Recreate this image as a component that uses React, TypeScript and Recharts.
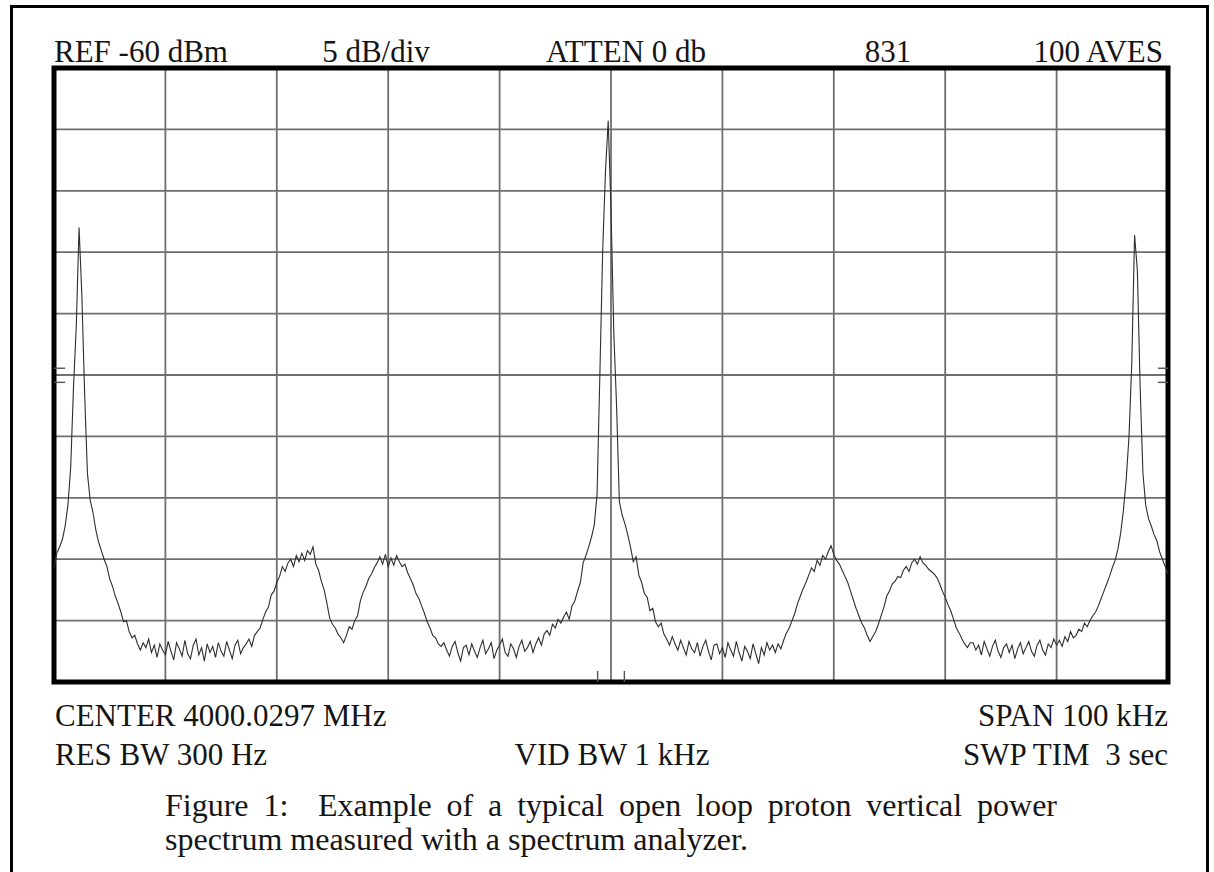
import { LineChart, Line, XAxis, YAxis, CartesianGrid, ReferenceArea, ReferenceLine } from 'recharts';

// sweep: 401 points, -50 kHz .. +50 kHz around the center frequency
const sweepStartKHz = -50;
const sweepStepKHz = 0.25;

// trace level in dBm
const traceDbm = [
    -100.7, -99.5, -99.0, -98.4, -97.3, -95.6, -92.5, -86.0, -81.0, -73.0,
    -78.5, -86.5, -93.0, -95.2, -96.2, -97.6, -98.6, -99.3, -100.0, -100.6,
    -101.6, -102.2, -103.0, -103.6, -104.3, -105.1, -105.0, -105.9, -106.4, -106.2,
    -106.9, -107.4, -106.8, -107.2, -106.5, -107.6, -107.0, -108.0, -106.9, -107.4,
    -107.8, -106.7, -107.5, -108.2, -106.8, -107.3, -107.9, -106.6, -107.7, -108.1,
    -107.0, -106.5, -107.8, -107.2, -108.3, -106.9, -107.6, -107.1, -108.0, -106.8,
    -107.5, -107.9, -106.7, -107.4, -108.1, -107.0, -106.6, -107.7, -107.2, -106.9,
    -106.5, -107.1, -106.2, -105.9, -105.6, -104.9, -104.3, -103.9, -102.9, -102.6,
    -101.9, -101.4, -100.6, -101.0, -100.3, -100.0, -100.6, -99.7, -100.2, -99.5,
    -100.1, -99.3, -99.6, -99.0, -100.4, -100.9, -101.8, -102.5, -103.6, -104.8,
    -105.3, -105.6, -106.1, -106.4, -106.8, -106.2, -105.5, -105.7, -105.0, -104.6,
    -103.4, -102.7, -102.2, -101.6, -101.2, -100.7, -100.3, -99.8, -100.4, -99.6,
    -100.6, -99.9, -100.5, -99.7, -100.2, -100.6, -100.4, -101.1, -101.6, -102.1,
    -102.8, -103.2, -103.8, -104.4, -105.1, -105.6, -106.2, -106.4, -106.9, -107.1,
    -106.8, -107.4, -107.9, -107.1, -106.7, -107.6, -108.3, -107.2, -107.0, -107.8,
    -106.9, -107.5, -108.0, -107.2, -106.6, -107.7, -107.3, -106.8, -108.1, -107.4,
    -107.0, -106.5, -107.6, -107.9, -106.9, -107.3, -108.0, -107.1, -106.6, -107.5,
    -107.2, -106.7, -107.6, -106.9, -106.4, -107.0, -106.1, -105.8, -106.2, -105.3,
    -105.6, -104.9, -105.2, -104.7, -104.3, -104.9, -103.8, -103.4, -102.6, -101.9,
    -100.3, -99.7, -99.0, -98.2, -97.2, -94.7, -85.0, -75.0, -68.5, -64.3,
    -71.5, -81.5, -87.5, -95.3, -96.4, -97.1, -98.0, -99.0, -100.2, -99.8,
    -101.3, -101.9, -102.8, -103.1, -104.2, -104.0, -105.1, -105.5, -105.2, -106.1,
    -106.5, -107.0, -106.3, -106.9, -107.4, -106.6, -107.2, -107.8, -106.7, -107.3,
    -107.6, -106.8, -107.9, -107.1, -106.6, -107.5, -108.2, -107.0, -106.9, -107.7,
    -107.2, -108.0, -106.8, -107.4, -107.9, -106.7, -107.6, -108.3, -107.1, -107.5,
    -108.1, -106.9, -107.7, -108.5, -107.2, -107.8, -106.8, -107.4, -107.0, -107.6,
    -106.9, -107.3, -106.6, -106.0, -105.6, -105.0, -104.4, -103.6, -103.0, -102.4,
    -101.9, -101.3, -100.7, -101.0, -100.1, -100.5, -99.7, -100.0, -99.4, -98.9,
    -99.6, -100.1, -100.4, -100.9, -101.4, -101.9, -102.6, -103.3, -104.0, -104.6,
    -105.2, -105.6, -106.2, -106.7, -106.3, -105.9, -105.3, -104.6, -103.9, -103.0,
    -102.6, -102.0, -101.8, -101.4, -101.5, -100.9, -100.6, -101.0, -100.3, -100.0,
    -100.4, -99.8, -100.3, -100.5, -100.8, -101.0, -101.2, -101.5, -102.0, -102.6,
    -103.1, -103.7, -104.2, -104.9, -105.6, -106.0, -106.5, -106.9, -107.2, -106.8,
    -106.8, -107.4, -107.0, -107.8, -106.7, -107.3, -107.9, -107.1, -106.6, -107.5,
    -108.0, -107.2, -106.9, -107.6, -107.0, -108.1, -107.3, -106.8, -107.7, -107.2,
    -106.7, -107.5, -107.9, -107.0, -106.6, -107.4, -107.8, -106.9, -107.2, -106.5,
    -107.0, -106.6, -107.1, -106.3, -106.7, -105.9, -106.4, -106.2, -105.7, -105.9,
    -105.2, -105.5, -105.0, -104.6, -104.3, -103.8, -103.2, -102.6, -102.0, -101.4,
    -100.7, -100.1, -99.2, -97.9, -96.0, -93.5, -90.0, -84.0, -73.6, -76.5,
    -86.0, -93.0, -95.6, -96.7, -97.3, -98.0, -98.5, -99.4, -100.0, -100.6,
    -101.2,
];

// 10 x 10 divisions: 10 kHz/div, 5 dB/div, REF -60 dBm
const freqDivTicks = [-50, -40, -30, -20, -10, 0, 10, 20, 30, 40, 50];
const levelDivTicks = [-110, -105, -100, -95, -90, -85, -80, -75, -70, -65, -60];

// small screen markers: center-level marks on both edges, center-frequency marks at the bottom
const edgeMarkDbm = [-84.45, -85.6];
const bottomMarkKHz = [-1.2, 1.2];

const headerLabels = [
    { text: 'REF -60 dBm', x: 54, anchor: 'start' },
    { text: '5 dB/div', x: 376, anchor: 'middle' },
    { text: 'ATTEN 0 db', x: 626, anchor: 'middle' },
    { text: '831', x: 888, anchor: 'middle' },
    { text: '100 AVES', x: 1163, anchor: 'end' },
];

const footerLabels = [
    { text: 'CENTER 4000.0297 MHz', x: 55, y: 726, anchor: 'start' },
    { text: 'SPAN 100 kHz', x: 1168, y: 726, anchor: 'end' },
    { text: 'RES BW 300 Hz', x: 55, y: 765, anchor: 'start' },
    { text: 'VID BW 1 kHz', x: 612, y: 765, anchor: 'middle' },
    { text: 'SWP TIM  3 sec', x: 1168, y: 765, anchor: 'end' },
];

const captionLines = [
    'Figure 1:\u00a0 Example of a typical open loop proton vertical power',
    'spectrum measured with a spectrum analyzer.',
];

const serif = '"Liberation Serif", "Times New Roman", serif';

export default function App() {
    const data = traceDbm.map((level, i) => ({
        freq: sweepStartKHz + i * sweepStepKHz,
        level,
    }));

    return (
        <div style={{ position: 'absolute', left: 0, top: 0, width: 1214, height: 872, background: '#fff', fontFamily: serif, color: '#151515' }}>
            <div
                style={{
                    position: 'absolute', left: 10, top: 5, width: 1199, height: 880, boxSizing: 'border-box',
                    borderLeft: '3px solid #000', borderTop: '3px solid #000', borderRight: '3px solid #000',
                }}
            />
            <div style={{ position: 'absolute', left: 0, top: 0 }}>
                <LineChart width={1214} height={872} data={data} margin={{ top: 68, right: 46, bottom: 190, left: 54 }}>
                    <XAxis dataKey="freq" type="number" domain={[-50, 50]} ticks={freqDivTicks} hide />
                    <YAxis type="number" domain={[-110, -60]} ticks={levelDivTicks} hide />
                    <CartesianGrid
                        stroke="#6f6f6f"
                        strokeWidth={1.8}
                        horizontalValues={levelDivTicks}
                        verticalValues={freqDivTicks}
                    />
                    {edgeMarkDbm.map(v => (
                        <ReferenceLine key={'l' + v} segment={[{ x: -50, y: v }, { x: -49, y: v }]} stroke="#555" strokeWidth={1.4} />
                    ))}
                    {edgeMarkDbm.map(v => (
                        <ReferenceLine key={'r' + v} segment={[{ x: 49.1, y: v }, { x: 50, y: v }]} stroke="#555" strokeWidth={1.4} />
                    ))}
                    {bottomMarkKHz.map(v => (
                        <ReferenceLine key={'b' + v} segment={[{ x: v, y: -110 }, { x: v, y: -109.1 }]} stroke="#555" strokeWidth={1.4} />
                    ))}
                    <Line
                        type="linear"
                        dataKey="level"
                        stroke="#2e2e2e"
                        strokeWidth={1.1}
                        dot={false}
                        activeDot={false}
                        isAnimationActive={false}
                    />
                    <ReferenceArea x1={-50} x2={50} y1={-110} y2={-60} fill="none" stroke="#000" strokeWidth={5} ifOverflow="visible" />
                </LineChart>
            </div>
            <svg width={1214} height={872} style={{ position: 'absolute', left: 0, top: 0, pointerEvents: 'none' }}>
                {headerLabels.map(l => (
                    <text key={l.text} x={l.x} y={62} textAnchor={l.anchor} fontFamily={serif} fontSize={31} fill="#151515">
                        {l.text}
                    </text>
                ))}
                {footerLabels.map(l => (
                    <text key={l.text} x={l.x} y={l.y} textAnchor={l.anchor} fontFamily={serif} fontSize={31} fill="#151515" style={{ whiteSpace: 'pre' }}>
                        {l.text}
                    </text>
                ))}
            </svg>
            <div
                style={{
                    position: 'absolute', left: 165, top: 788, width: 892, fontSize: 32, lineHeight: '34px',
                    textAlign: 'justify', textAlignLast: 'justify', whiteSpace: 'nowrap',
                }}
            >
                {captionLines[0]}
            </div>
            <div style={{ position: 'absolute', left: 165, top: 822, fontSize: 32, lineHeight: '34px', whiteSpace: 'nowrap' }}>
                {captionLines[1]}
            </div>
        </div>
    );
}
